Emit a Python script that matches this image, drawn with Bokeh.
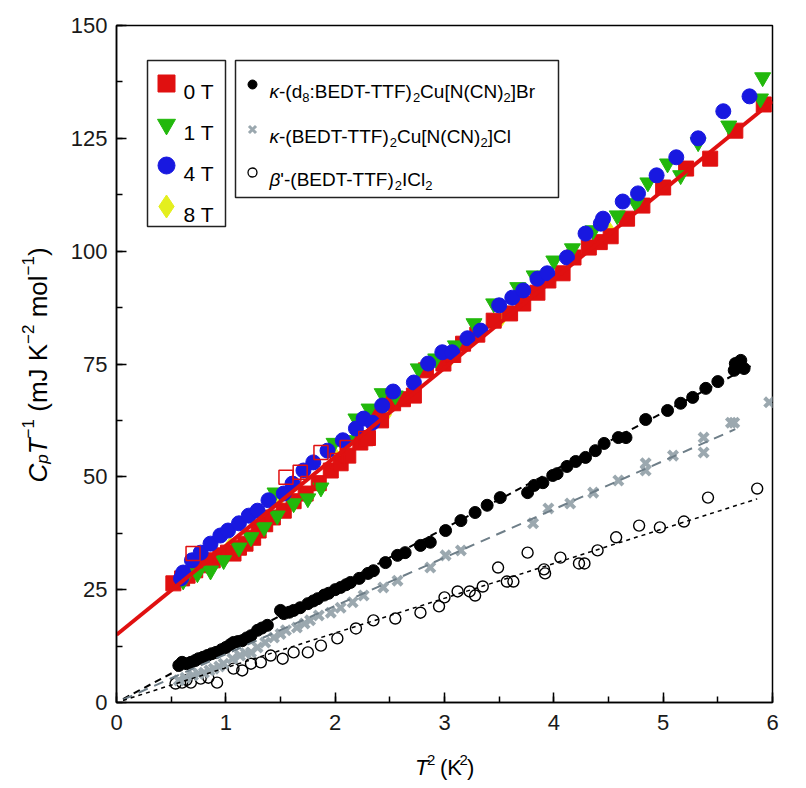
from math import pi
from bokeh.plotting import figure
from bokeh.models import Label, BoxAnnotation, SingleIntervalTicker, Range1d
from bokeh.layouts import row, column
from bokeh.embed import file_html
from bokeh.resources import INLINE

# ---------------- data (T^2 in K^2, CpT^-1 in mJ K^-2 mol^-1) ----------------
t2_0T = [0.52, 0.60, 0.65, 0.72, 0.77, 0.88, 0.95, 1.02, 1.07, 1.12, 1.18, 1.25, 1.30,
         1.36, 1.43, 1.53, 1.62, 1.73, 1.85, 1.96, 2.05, 2.12, 2.23, 2.30, 2.37, 2.42,
         2.53, 2.62, 2.72, 2.83, 2.99, 3.08, 3.17, 3.30, 3.45, 3.60, 3.72, 3.85, 3.95,
         4.08, 4.18, 4.32, 4.42, 4.52, 4.67, 4.81, 5.00, 5.21, 5.43, 5.66, 5.92]
c_0T = [26.4, 27.5, 28.1, 29.3, 30.4, 31.5, 32.6, 33.2, 33.0, 34.3, 35.2, 36.5, 38.1,
        39.5, 41.0, 42.5, 44.6, 46.3, 48.6, 51.4, 53.0, 54.7, 57.6, 58.6, 64.0, 62.5,
        66.3, 67.2, 68.0, 73.6, 75.1, 77.0, 79.5, 81.5, 84.6, 86.2, 88.4, 90.8, 93.5,
        95.1, 98.6, 100.8, 102.0, 103.3, 107.2, 110.1, 114.1, 118.3, 120.5, 126.7, 132.5]

t2_0T_open = [0.70, 1.55, 1.68, 1.75, 1.87, 2.02, 2.11, 2.28]
c_0T_open = [33.0, 49.9, 51.0, 48.5, 55.4, 53.6, 56.5, 58.5]

t2_1T = [0.61, 0.74, 0.86, 0.98, 1.12, 1.23, 1.35, 1.45, 1.47, 1.62, 1.75, 1.87, 1.99,
         2.11, 2.19, 2.31, 2.43, 2.55, 2.76, 2.92, 3.10, 3.27, 3.45, 3.67, 3.82, 4.00,
         4.17, 4.36, 4.58, 4.75, 4.86, 5.04, 5.16, 5.32, 5.60, 5.89, 5.91]
c_1T = [27.0, 28.6, 29.2, 31.5, 34.3, 36.6, 38.8, 46.5, 41.4, 44.1, 45.2, 47.6, 57.5,
        58.1, 62.9, 65.1, 68.5, 68.0, 74.0, 76.2, 79.1, 84.0, 88.4, 92.0, 94.6, 97.9,
        100.6, 104.6, 107.9, 110.6, 115.2, 119.4, 116.8, 124.1, 127.8, 133.8, 138.5]

t2_4T = [0.59, 0.61, 0.69, 0.77, 0.86, 0.95, 1.02, 1.12, 1.21, 1.29, 1.39, 1.53, 1.61,
         1.71, 1.80, 1.93, 2.07, 2.19, 2.26, 2.34, 2.43, 2.53, 2.72, 2.85, 2.98, 3.07,
         3.21, 3.33, 3.50, 3.62, 3.72, 3.85, 3.94, 4.12, 4.29, 4.43, 4.45, 4.63, 4.77,
         4.94, 5.12, 5.32, 5.55, 5.79]
c_4T = [27.5, 28.8, 31.5, 33.2, 35.2, 37.0, 38.1, 39.7, 41.4, 42.5, 44.8, 46.3, 48.5,
        51.4, 53.2, 55.8, 58.1, 60.7, 62.9, 62.0, 65.8, 68.9, 70.9, 75.1, 77.6, 77.6,
        80.7, 82.4, 88.0, 89.7, 91.3, 93.9, 95.1, 98.6, 103.9, 106.1, 107.2, 111.0, 112.8,
        116.8, 120.8, 125.0, 131.0, 134.3]

t2_8T = [1.04, 1.48, 2.01, 2.47, 3.03, 3.52, 3.98, 4.51]
c_8T = [35.0, 44.1, 54.6, 63.8, 75.2, 84.9, 93.6, 104.8]

t2_br = [0.57, 0.60, 0.64, 0.68, 0.72, 0.75, 0.79, 0.83, 0.87, 0.91, 0.96, 1.00, 1.04,
         1.07, 1.11, 1.15, 1.19, 1.23, 1.29, 1.33, 1.38, 1.50, 1.53, 1.58, 1.62, 1.68,
         1.75, 1.80, 1.84, 1.90, 1.94, 2.00, 2.05, 2.10, 2.14, 2.22, 2.30, 2.35, 2.46,
         2.57, 2.64, 2.78, 2.87, 3.01, 3.15, 3.28, 3.39, 3.51, 3.76, 3.82, 3.90, 3.99,
         4.03, 4.12, 4.20, 4.29, 4.38, 4.46, 4.59, 4.66, 4.84, 5.04, 5.16, 5.27, 5.39,
         5.50, 5.65, 5.66, 5.71, 5.74]
c_br = [8.2, 8.9, 8.6, 8.9, 9.3, 9.7, 10.0, 10.4, 10.8, 11.1, 11.7, 12.2, 12.8,
        13.3, 13.5, 13.7, 14.3, 14.8, 16.0, 16.5, 17.1, 20.4, 19.7, 20.0, 20.4, 21.0,
        21.9, 22.5, 23.0, 23.8, 24.2, 25.0, 25.5, 26.1, 26.6, 27.5, 28.6, 29.2, 31.0,
        32.6, 33.2, 34.8, 35.5, 38.1, 40.3, 42.1, 43.7, 45.4, 46.5, 48.1, 48.7, 50.3,
        50.7, 52.3, 53.4, 54.3, 55.8, 57.4, 58.7, 58.7, 62.7, 64.7, 66.3, 67.6, 69.6,
        71.1, 73.6, 75.1, 75.8, 74.0]

t2_cl = [0.57, 0.63, 0.70, 0.75, 0.80, 0.85, 0.89, 0.94, 0.98, 1.06, 1.13, 1.18, 1.23,
         1.29, 1.36, 1.44, 1.50, 1.55, 1.65, 1.72, 1.77, 1.85, 1.96, 2.05, 2.16, 2.26,
         2.44, 2.57, 2.87, 3.01, 3.15, 3.81, 3.95, 4.15, 4.36, 4.59, 4.84, 4.84, 5.09,
         5.37, 5.37, 5.62, 5.65, 5.97]
c_cl = [4.9, 5.5, 6.0, 6.4, 6.6, 7.1, 7.5, 8.0, 8.6, 9.7, 10.4, 10.9, 11.1,
        12.2, 13.3, 14.4, 15.2, 16.0, 16.6, 17.5, 18.2, 19.3, 19.9, 21.0, 22.2, 23.7,
        25.5, 27.0, 29.9, 32.6, 33.7, 39.7, 43.0, 44.1, 46.5, 49.2, 51.4, 53.0, 54.7,
        55.4, 58.7, 62.0, 62.0, 66.5]

t2_icl = [0.54, 0.60, 0.64, 0.68, 0.77, 0.84, 0.92, 1.07, 1.15, 1.23, 1.32, 1.41, 1.52,
          1.62, 1.75, 1.87, 2.02, 2.19, 2.35, 2.55, 2.78, 2.95, 3.00, 3.12, 3.23, 3.28,
          3.35, 3.49, 3.57, 3.63, 3.76, 3.91, 3.92, 4.06, 4.23, 4.28, 4.40, 4.57, 4.78,
          4.97, 5.19, 5.41, 5.86]
c_icl = [4.2, 4.4, 5.0, 4.4, 5.3, 5.5, 4.4, 7.5, 7.1, 8.6, 8.9, 10.4, 9.7,
         11.1, 11.1, 12.6, 14.2, 16.4, 18.2, 18.6, 19.9, 21.3, 23.3, 24.6, 24.6, 23.7,
         25.7, 29.9, 26.8, 26.8, 33.2, 29.5, 28.6, 32.1, 30.8, 30.8, 33.7, 36.6, 39.2,
         38.8, 40.1, 45.4, 47.4]

# fitted lines: T^2 extent, intercept gamma and slope beta
fit_0T_x = [0.0, 6.0]
fit_0T_gamma, fit_0T_beta = 15.0, 19.7
fit_br_x = [0.06, 5.8]
fit_br_beta = 12.85
fit_cl_x = [0.06, 5.66]
fit_cl_beta = 10.7
fit_icl_x = [0.06, 5.86]
fit_icl_beta = 7.7

legend_field = ["0 T", "1 T", "4 T", "8 T"]

# ---------------- styling ----------------
FONT = "Liberation Sans"
RED = "#e01010"
GREEN = "#22b80c"
BLUE = "#1818e0"
YELLOW = "#e4ef1e"
GREY = "#9ba8af"
GREY_LINE = "#6e7e88"

# page layout (pixels): y-title strip | main plot (frame 116..772 x 25..702) / x-title strip
YSTRIP_W = 56
MAIN_LB, MAIN_RB, MAIN_TB, MAIN_BB = 60, 18, 25, 40
FL, FT = YSTRIP_W + MAIN_LB, MAIN_TB
FW, FH = 656, 677
FR, FB = FL + FW, FT + FH
MAIN_W = MAIN_LB + FW + MAIN_RB
MAIN_H = MAIN_TB + FH + MAIN_BB
XSTRIP_H = 44
TOTAL_H = MAIN_H + XSTRIP_H
XMAX, YMAX = 6.0, 150.0

p = figure(frame_width=FW, frame_height=FH,
           min_border_left=MAIN_LB, min_border_top=MAIN_TB,
           min_border_right=MAIN_RB, min_border_bottom=MAIN_BB,
           x_range=Range1d(0, XMAX), y_range=Range1d(0, YMAX),
           output_backend="svg", toolbar_location=None, title=None)
p.background_fill_color = "white"
p.border_fill_color = "white"
p.grid.visible = False
p.outline_line_color = "black"
p.outline_line_width = 1.5
p.outline_line_alpha = 1.0

for ax, interval in ((p.xaxis, 1), (p.yaxis, 25)):
    ax.ticker = SingleIntervalTicker(interval=interval, num_minor_ticks=2)
    ax.axis_line_color = "black"
    ax.axis_line_width = 1.5
    ax.major_tick_in = 10
    ax.major_tick_out = 0
    ax.minor_tick_in = 6
    ax.minor_tick_out = 0
    ax.major_tick_line_width = 1.5
    ax.minor_tick_line_width = 1.5
    ax.major_label_text_font = FONT
    ax.major_label_text_font_size = "22px"
    ax.major_label_text_color = "#1a1a1a"
p.yaxis.major_label_standoff = 9
p.xaxis.major_label_standoff = 12


def px2x(px):
    return (px - FL) / FW * XMAX


def px2y(py):
    return (FB - py) / FH * YMAX


# ---------------- data marks ----------------
p.scatter(t2_8T, c_8T, marker="diamond", size=15, color=YELLOW)
p.scatter(t2_0T, c_0T, marker="square", size=15, color=RED)
p.scatter(t2_1T, c_1T, marker="inverted_triangle", size=16, color=GREEN)
p.scatter(t2_4T, c_4T, marker="circle", size=15, color=BLUE)
p.scatter(t2_0T_open, c_0T_open, marker="square", size=14, fill_alpha=0,
          line_color=RED, line_width=1.5)

p.line(fit_0T_x, [fit_0T_gamma + fit_0T_beta * v for v in fit_0T_x],
       line_color=RED, line_width=4)

p.scatter(t2_icl, c_icl, marker="circle", size=11, fill_alpha=0,
          line_color="black", line_width=1.4)
p.scatter(t2_cl, c_cl, marker="x", size=13, line_color=GREY, line_width=4)
p.scatter(t2_br, c_br, marker="circle", size=12, color="black")

p.line(fit_br_x, [fit_br_beta * v for v in fit_br_x], line_color="black",
       line_width=2, line_dash="7 5")
p.line(fit_cl_x, [fit_cl_beta * v for v in fit_cl_x], line_color=GREY_LINE,
       line_width=2, line_dash="10 7")
p.line(fit_icl_x, [fit_icl_beta * v for v in fit_icl_x], line_color="black",
       line_width=1.5, line_dash="4 4")

# ---------------- text helpers ----------------
W = {" ": 278, "(": 333, ")": 333, "-": 333, ":": 278, "[": 278, "]": 278, "'": 191,
     "A": 667, "B": 667, "C": 722, "D": 722, "E": 667, "F": 611, "I": 278, "J": 500,
     "K": 667, "N": 722, "T": 611, "l": 222, "m": 833, "o": 556, "p": 556, "r": 333,
     "u": 556, "d": 556, "\u2212": 584, "\u03ba": 500, "\u03b2": 572}


def tw(s, size):
    return sum(W.get(c, 556) for c in s) / 1000.0 * size


def make_label(x, y, text, size, style="normal", angle=0.0, xo=0, yo=0):
    return Label(x=x, y=y, x_offset=xo, y_offset=yo, text=text,
                 text_font=FONT, text_font_size=f"{size}px",
                 text_font_style=style, text_color="black",
                 text_align="left", text_baseline="alphabetic", angle=angle)


def main_label(px, py, text, size, style="normal"):
    # anchored at the frame's lower-left corner, offset in page pixels
    p.add_layout(make_label(0, 0, text, size, style, 0.0, px - FL, FB - py))


def split_lead(text, size):
    stripped = text.lstrip(" ")
    return stripped, tw(text[:len(text) - len(stripped)], size)


def rich_h(put, px, py, segs, size, small, sub_shift, sup_shift):
    x = px
    for text, kind in segs:
        style = "italic" if "i" in kind else "normal"
        sz = small if ("sub" in kind or "sup" in kind) else size
        dy = sub_shift if "sub" in kind else (-sup_shift if "sup" in kind else 0)
        body, lead = split_lead(text, sz)
        x += lead
        put(x, py + dy, body, sz, style)
        x += tw(body, sz)


# ---------------- legends ----------------
p.add_layout(BoxAnnotation(left=px2x(147), right=px2x(225), top=px2y(60), bottom=px2y(226),
                           fill_color="white", fill_alpha=1, line_color="#222222",
                           line_alpha=1, line_width=1.5, level="underlay"))
p.add_layout(BoxAnnotation(left=px2x(235), right=px2x(558), top=px2y(60), bottom=px2y(197),
                           fill_color="white", fill_alpha=1, line_color="#222222",
                           line_alpha=1, line_width=1.5, level="underlay"))

field_rows = [(91, RED, "square", 17), (132, GREEN, "inverted_triangle", 18),
              (173, BLUE, "circle", 17), (214, YELLOW, "diamond", 23)]
for (base, col, mk, sz), txt in zip(field_rows, legend_field):
    p.scatter([px2x(166)], [px2y(base - 8)], marker=mk, size=sz, color=col)
    main_label(183, base, txt, 21)

p.scatter([px2x(252)], [px2y(84)], marker="circle", size=9, color="black")
p.scatter([px2x(252)], [px2y(129)], marker="x", size=10, line_color=GREY, line_width=3)
p.scatter([px2x(252)], [px2y(172)], marker="circle", size=9, fill_alpha=0,
          line_color="black", line_width=1.3)

LF, LS = 19, 13
rich_h(main_label, 269, 91, [("\u03ba", "i"), ("-(d", "n"), ("8", "sub"),
                             (":BEDT-TTF)", "n"), ("2", "sub"), ("Cu[N(CN)", "n"),
                             ("2", "sub"), ("]Br", "n")], LF, LS, 6, 0)
rich_h(main_label, 269, 136, [("\u03ba", "i"), ("-(BEDT-TTF)", "n"), ("2", "sub"),
                              ("Cu[N(CN)", "n"), ("2", "sub"), ("]Cl", "n")], LF, LS, 6, 0)
rich_h(main_label, 269, 179, [("\u03b2", "i"), ("'-(BEDT-TTF)", "n"), ("2", "sub"),
                              ("ICl", "n"), ("2", "sub")], LF, LS, 6, 0)


# ---------------- axis-title strips (data units = page pixels) ----------------
def strip(width, height, x0, y0):
    f = figure(width=width, height=height, min_border=0,
               x_range=Range1d(x0, x0 + width), y_range=Range1d(y0 + height, y0),
               x_axis_location=None, y_axis_location=None,
               output_backend="svg", toolbar_location=None, title=None)
    f.grid.visible = False
    f.outline_line_color = None
    f.background_fill_color = "white"
    f.border_fill_color = "white"
    return f


fy = strip(YSTRIP_W, TOTAL_H, 0, 0)
fx = strip(MAIN_W, XSTRIP_H, YSTRIP_W, MAIN_H)


def rich_v(fig, bx, py, segs, size, small, sub_shift, sup_shift):
    y = py
    for text, kind in segs:
        style = "italic" if "i" in kind else "normal"
        sz = small if ("sub" in kind or "sup" in kind) else size
        dx = sub_shift if "sub" in kind else (-sup_shift if "sup" in kind else 0)
        body, lead = split_lead(text, sz)
        y -= lead
        fig.add_layout(make_label(bx + dx, y, body, sz, style, pi / 2))
        y -= tw(body, sz)


rich_v(fy, 37, 482, [("C", "i"), ("p", "isub"), ("T", "i"), ("\u22121", "sup"),
                     (" (mJ K", "n"), ("\u22122", "sup"), (" mol", "n"),
                     ("\u22121", "sup"), (")", "n")], 26, 17, 5, 10)


def put_x(x, y, text, size, style):
    fx.add_layout(make_label(x, y, text, size, style))


rich_h(put_x, 390, 767, [("T", "i"), ("2", "sup"), (" (K", "n"), ("2", "sup"), (")", "n")],
       22, 15, 0, 8)

layout = row(fy, column(p, fx))
open("out.html", "w").write(file_html(layout, INLINE))
